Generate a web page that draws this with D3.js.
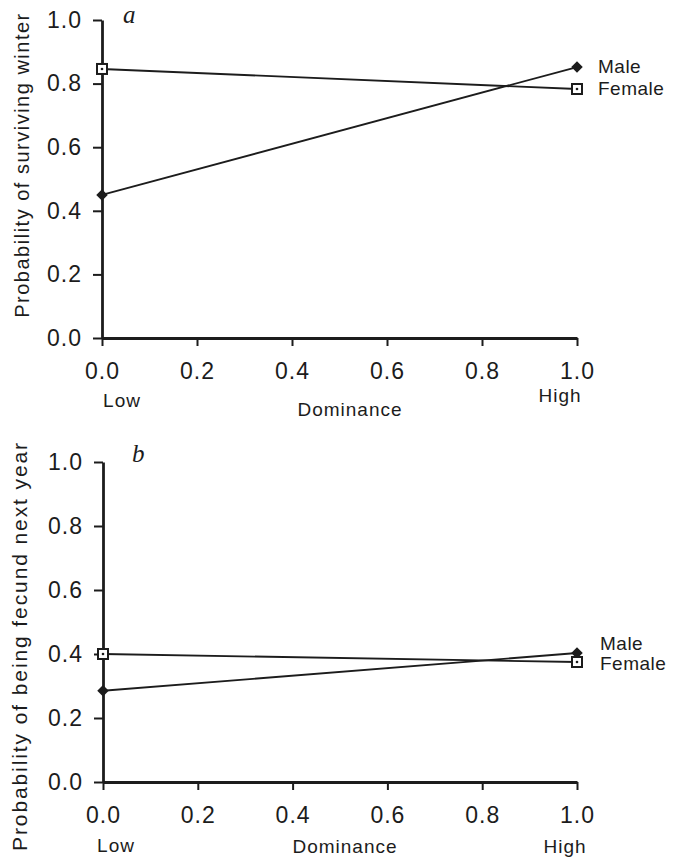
<!DOCTYPE html>
<html>
<head>
<meta charset="utf-8">
<script src="https://cdn.jsdelivr.net/npm/d3@7"></script>
<style>
  body { margin: 0; background: #fff; }
  svg { display: block; }
  text { font-family: "Liberation Sans", Arial, Helvetica, sans-serif; fill: #1c1c1c; }
  .tick text { font-size: 23px; }
  .tick line, .domain { stroke: #1c1c1c; }
</style>
</head>
<body>
<svg id="chart" width="680" height="858"></svg>
<script>
// data
const dominance = [0, 1];
const survivalMale = [0.45, 0.852];
const survivalFemale = [0.846, 0.783];
const fecundMale = [0.285, 0.403];
const fecundFemale = [0.40, 0.375];
const seriesNames = ["Male", "Female"];
const yTicks = [0, 0.2, 0.4, 0.6, 0.8, 1.0];
const xTicks = [0, 0.2, 0.4, 0.6, 0.8, 1.0];

const svg = d3.select("#chart");
const ink = "#1c1c1c";

const panels = [
  {
    letter: "a", ylabel: "Probability of surviving winter",
    male: survivalMale, female: survivalFemale,
    x0: 102, x1: 577, yTop: 20, yBot: 338,
    ylabX: 29, ylabY: 165, ylabSize: 20, ylabSpacing: 1.5,
    letterX: 123, letterY: 23,
    maleLab: 73, femaleLab: 95, labX: 598,
    lowY: 407, highY: 402, domY: 416, lowX: 122, highX: 560, domX: 350
  },
  {
    letter: "b", ylabel: "Probability of being fecund next year",
    male: fecundMale, female: fecundFemale,
    x0: 103, x1: 577, yTop: 462, yBot: 782,
    ylabX: 27, ylabY: 646, ylabSize: 21, ylabSpacing: 1.9,
    letterX: 132, letterY: 462,
    maleLab: 650, femaleLab: 670, labX: 600,
    lowY: 852, highY: 853, domY: 853, lowX: 116, highX: 565, domX: 345
  }
];

panels.forEach(p => {
  const x = d3.scaleLinear().domain([0, 1]).range([p.x0, p.x1]);
  const y = d3.scaleLinear().domain([0, 1]).range([p.yBot, p.yTop]);
  const g = svg.append("g");

  g.append("g")
    .attr("transform", `translate(0,${p.yBot})`)
    .call(d3.axisBottom(x).tickValues(xTicks).tickFormat(d3.format(".1f"))
      .tickSize(8).tickSizeOuter(0).tickPadding(17))
    .call(a => a.select(".domain").attr("stroke-width", 2.8))
    .call(a => a.selectAll(".tick line").attr("stroke-width", 2))
    .call(a => a.selectAll(".tick text").attr("fill", ink).attr("letter-spacing", 1));

  g.append("g")
    .attr("transform", `translate(${p.x0},0)`)
    .call(d3.axisLeft(y).tickValues(yTicks).tickFormat(d3.format(".1f"))
      .tickSize(9).tickSizeOuter(0).tickPadding(11))
    .call(a => a.select(".domain").attr("stroke-width", 2.8))
    .call(a => a.selectAll(".tick line").attr("stroke-width", 2))
    .call(a => a.selectAll(".tick text").attr("fill", ink).attr("letter-spacing", 1));

  const line = d3.line().x((d, i) => x(dominance[i])).y(d => y(d));

  [p.male, p.female].forEach(vals => {
    g.append("path").datum(vals)
      .attr("d", line)
      .attr("fill", "none")
      .attr("stroke", ink)
      .attr("stroke-width", 1.9);
  });

  // male: filled diamonds
  g.selectAll(".male").data(p.male).join("path")
    .attr("class", "male")
    .attr("transform", (d, i) => `translate(${x(dominance[i])},${y(d)})`)
    .attr("d", d3.symbol(d3.symbolDiamond2, 85))
    .attr("fill", ink);

  // female: open squares with a dot
  const fem = g.selectAll(".female").data(p.female).join("g")
    .attr("class", "female")
    .attr("transform", (d, i) => `translate(${x(dominance[i])},${y(d)})`);
  fem.append("rect")
    .attr("x", -5).attr("y", -5).attr("width", 10).attr("height", 10)
    .attr("fill", "#fff").attr("stroke", ink).attr("stroke-width", 2);
  fem.append("circle").attr("r", 1.3).attr("fill", ink);

  // series labels
  g.append("text").attr("x", p.labX).attr("y", p.maleLab)
    .attr("font-size", 19).attr("letter-spacing", 0.5).text(seriesNames[0]);
  g.append("text").attr("x", p.labX).attr("y", p.femaleLab)
    .attr("font-size", 19).attr("letter-spacing", 0.5).text(seriesNames[1]);

  // panel letter
  g.append("text").attr("x", p.letterX).attr("y", p.letterY)
    .style("font-family", '"Liberation Serif", "Times New Roman", serif')
    .style("font-style", "italic").attr("font-size", 25).text(p.letter);

  // y label
  g.append("text")
    .attr("transform", `translate(${p.ylabX},${p.ylabY}) rotate(-90)`)
    .attr("text-anchor", "middle").attr("font-size", p.ylabSize)
    .attr("letter-spacing", p.ylabSpacing).text(p.ylabel);

  // x labels
  g.append("text").attr("x", p.lowX).attr("y", p.lowY).attr("text-anchor", "middle")
    .attr("font-size", 19).attr("letter-spacing", 1).text("Low");
  g.append("text").attr("x", p.highX).attr("y", p.highY).attr("text-anchor", "middle")
    .attr("font-size", 19).attr("letter-spacing", 1).text("High");
  g.append("text").attr("x", p.domX).attr("y", p.domY).attr("text-anchor", "middle")
    .attr("font-size", 19).attr("letter-spacing", 1).text("Dominance");
});
</script>
</body>
</html>
